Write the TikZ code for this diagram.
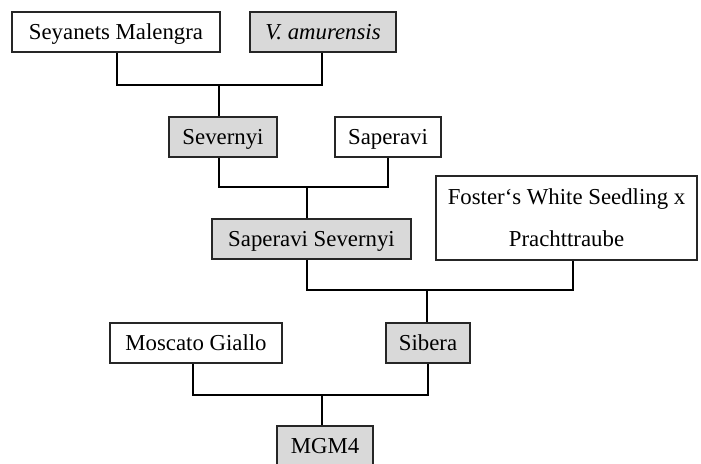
\documentclass[tikz,border=0pt]{standalone}
\usepackage{fontspec}
\setmainfont{Liberation Serif}
\definecolor{boxgray}{RGB}{217,217,217}
\tikzset{
  basebox/.style={draw=black!85, line width=1.2pt, fill=white, inner sep=0pt, minimum height=40pt, font=\fontsize{22.8}{42}\selectfont},
  plainbox/.style={basebox, text height=15pt, text depth=0pt},
  graybox/.style={plainbox, fill=boxgray},
  conn/.style={draw=black, line width=2.6pt, line join=miter}
}
\begin{document}
\begin{tikzpicture}[x=1pt,y=-1pt]
\clip (0,0) rectangle (701,463);
\fill[white] (0,0) rectangle (701,463);
\node[plainbox, minimum width=208pt] (SM) at (116,32) {Seyanets Malengra};
\node[graybox, minimum width=146pt] (VA) at (323,32) {\itshape V. amurensis};
\node[graybox, minimum width=108pt] (Sev) at (223,137) {Severnyi};
\node[plainbox, minimum width=106pt] (Sap) at (388,137) {Saperavi};
\node[graybox, minimum width=199pt] (SS) at (311.5,239) {Saperavi Severnyi};
\node[basebox, minimum width=261pt, minimum height=84pt, align=center] (Fos) at (566.5,218) {Foster‘s White Seedling x\\Prachttraube};
\node[plainbox, minimum width=172pt] (MG) at (196,343) {Moscato Giallo};
\node[graybox, minimum width=84pt] (Sib) at (428,343) {Sibera};
\node[graybox, minimum width=96pt] (M4) at (325,446) {MGM4};
\coordinate (j1) at (219,85);
\coordinate (j2) at (307,187);
\coordinate (j3) at (427,290);
\coordinate (j4) at (322,395);
\draw[conn] ([xshift=1pt]SM.south) |- (j1) -| ([xshift=-1pt]VA.south);
\draw[conn] (j1) -- (j1 |- Sev.north);
\draw[conn] ([xshift=-4pt]Sev.south) |- (j2) -| (Sap.south);
\draw[conn] (j2) -- (j2 |- SS.north);
\draw[conn] ([xshift=-4.5pt]SS.south) |- (j3) -| ([xshift=6.5pt]Fos.south);
\draw[conn] (j3) -- (j3 |- Sib.north);
\draw[conn] ([xshift=-3pt]MG.south) |- (j4) -| (Sib.south);
\draw[conn] (j4) -- (j4 |- M4.north);
\end{tikzpicture}
\end{document}
